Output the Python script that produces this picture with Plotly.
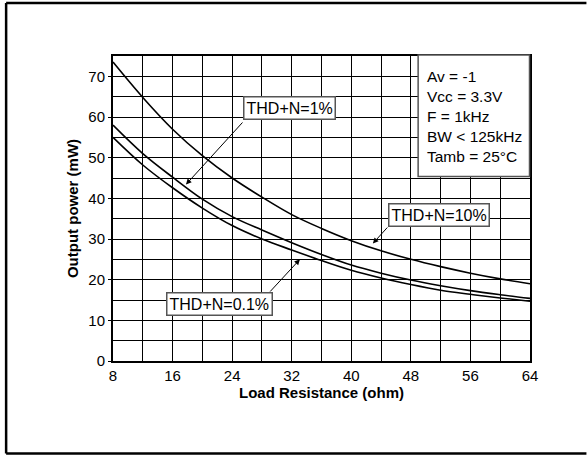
import plotly.graph_objects as go

load_ohm = [8, 12, 16, 20, 24, 28, 32, 36, 40, 44, 48, 52, 56, 60, 64]
p_thd10 = [73.5, 64.8, 57.0, 50.5, 45.0, 40.3, 36.0, 32.6, 29.6, 27.1, 25.0, 23.2, 21.6, 20.2, 19.0]
p_thd1 = [58.0, 51.0, 45.2, 39.8, 35.5, 32.2, 29.1, 26.2, 23.6, 21.6, 19.9, 18.5, 17.3, 16.3, 15.4]
p_thd01 = [55.0, 48.2, 42.6, 37.6, 33.3, 30.0, 27.3, 24.7, 22.3, 20.4, 18.8, 17.4, 16.4, 15.5, 14.7]

x_ticks = [8, 16, 24, 32, 40, 48, 56, 64]
y_ticks = [0, 10, 20, 30, 40, 50, 60, 70]
info_lines = ["Av = -1", "Vcc = 3.3V", "F = 1kHz", "BW < 125kHz", "Tamb = 25°C"]

FONT = "Liberation Sans, Arial, sans-serif"

fig = go.Figure()
for ys in (p_thd10, p_thd1, p_thd01):
    fig.add_trace(go.Scatter(x=load_ohm, y=ys, mode="lines",
                             line=dict(color="black", width=1.6, shape="spline", smoothing=1.0),
                             showlegend=False, hoverinfo="skip"))

# pixel geometry helpers
L, R, T, B = 113, 530.5, 56, 361
W, H = R - L, B - T
X0, X1, Y0, Y1 = 8, 64, 0, 75
def px(x):
    return (x - L) / W
def py(y):
    return (B - y) / H
def dx(p):
    return X0 + (p - L) / W * (X1 - X0)
def dy(p):
    return Y0 + (B - p) / H * (Y1 - Y0)

# outer frame (left, top, bottom edges; right edge falls outside the view)
for (a, b, c, d) in [(6, 3, 6, 453.5), (6, 3, 587, 3), (6, 453.5, 587, 453.5)]:
    fig.add_shape(type="line", xref="paper", yref="paper",
                  x0=px(a), y0=py(b), x1=px(c), y1=py(d),
                  line=dict(color="black", width=2.5), layer="above")

def label(text, box_x, box_y, tail_x, tail_y, tip_x, tip_y):
    fig.add_annotation(x=tip_x, y=tip_y, xref="x", yref="y",
                       ax=dx(tail_x), ay=dy(tail_y), axref="x", ayref="y",
                       showarrow=True, arrowhead=2, arrowsize=1.1, arrowwidth=1,
                       arrowcolor="black", text="")
    fig.add_annotation(x=px(box_x), y=py(box_y), xref="paper", yref="paper", text=text,
                       showarrow=False, xanchor="left", yanchor="top",
                       font=dict(family=FONT, size=16, color="black"),
                       bgcolor="white", bordercolor="#555555", borderwidth=1.5, borderpad=2)

label("THD+N=1%", 243, 96, 244, 121, 17.8, 43.4)
label("THD+N=10%", 388, 203, 389, 226, 42.9, 28.9)
label("THD+N=0.1%", 166, 292, 269, 293, 33.1, 25.0)

# info box
fig.add_shape(type="rect", xref="paper", yref="paper",
              x0=px(418.5), x1=px(530), y0=py(176.5), y1=py(55),
              line=dict(color="#555555", width=1.5), fillcolor="white", layer="above")
for i, t in enumerate(info_lines):
    fig.add_annotation(x=px(425), y=py(76.5 + 20 * i), xref="paper", yref="paper",
                       text=t, showarrow=False, xanchor="left", yanchor="middle",
                       font=dict(family=FONT, size=15.5, color="black"))

fig.update_layout(
    width=587, height=455,
    margin=dict(l=L, r=587 - R, t=T, b=455 - B),
    paper_bgcolor="white", plot_bgcolor="white",
    font=dict(family=FONT, size=15, color="black"),
    xaxis=dict(range=[X0, X1], tickvals=x_ticks, ticktext=[str(v) for v in x_ticks],
               showgrid=True, gridcolor="black", gridwidth=1,
               minor=dict(dtick=4, tick0=8, showgrid=True, gridcolor="black", gridwidth=1),
               showline=True, linecolor="black", linewidth=2, mirror=True,
               ticks="", zeroline=False,
               title=dict(text="<b>Load Resistance (ohm)</b>", font=dict(size=15), standoff=2),
               tickfont=dict(size=15)),
    yaxis=dict(range=[Y0, Y1], tickvals=y_ticks, ticktext=[str(v) for v in y_ticks],
               showgrid=True, gridcolor="black", gridwidth=1,
               minor=dict(dtick=5, tick0=0, showgrid=True, gridcolor="black", gridwidth=1),
               showline=True, linecolor="black", linewidth=2, mirror=True,
               ticks="outside", ticklen=3, tickcolor="black", zeroline=False,
               title=dict(text="<b>Output power (mW)</b>", font=dict(size=15), standoff=6),
               tickfont=dict(size=15)),
)

fig.write_html("out.html")
